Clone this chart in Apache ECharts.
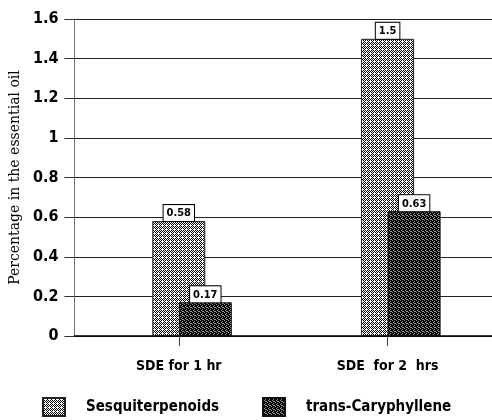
<!DOCTYPE html>
<html><head><meta charset="utf-8">
<script src="https://cdn.jsdelivr.net/npm/echarts@6/dist/echarts.min.js"></script>
<style>html,body{margin:0;padding:0;background:#fff}#c{width:492px;height:420px}</style>
</head><body><div id="c"></div>
<script>
const categories = ['SDE for 1 hr', 'SDE  for 2  hrs'];
const sesquiterpenoids = [0.58, 1.5];
const transCaryophyllene = [0.17, 0.63];
const yTicks = [0, 0.2, 0.4, 0.6, 0.8, 1, 1.2, 1.4, 1.6];

function pattern(bg, fg, cells, size) {
  const cv = document.createElement('canvas');
  cv.width = size; cv.height = size;
  const ctx = cv.getContext('2d');
  ctx.fillStyle = bg; ctx.fillRect(0, 0, size, size);
  ctx.fillStyle = fg;
  cells.forEach(([x, y]) => ctx.fillRect(x, y, 1, 1));
  return { image: cv, repeat: 'repeat' };
}
const lightPat = pattern('#000', '#fff', [[0,0],[1,1],[2,0],[3,1],[0,2],[1,3],[2,2],[3,3],[2,1]], 4);
const darkPat = pattern('#000', '#9a9a9a', [[0,0],[2,1],[1,2],[3,3],[2,3]], 4);

const condensed = "'Liberation Sans Narrow','DejaVu Sans Condensed',sans-serif";
const chart = echarts.init(document.getElementById('c'), null, { renderer: 'canvas' });
const labelStyle = {
  show: true, position: 'top', distance: 0,
  backgroundColor: '#fff', borderColor: '#000', borderWidth: 1,
  padding: [3, 3, 2, 3], color: '#000',
  fontFamily: condensed, fontWeight: 'bold', fontSize: 11
};
const legendText = { fontFamily: condensed, fontWeight: 'bold', fontSize: 15, color: '#000', padding: [0, 0, 0, 16] };
chart.setOption({
  animation: false,
  grid: { left: 74, top: 19, bottom: 84, right: -8, containLabel: false },
  legend: [
    { left: 42, top: 397, padding: 0, icon: 'rect', itemWidth: 22, itemHeight: 18, data: ['Sesquiterpenoids'], textStyle: legendText },
    { left: 262, top: 397, padding: 0, icon: 'rect', itemWidth: 22, itemHeight: 18, data: ['trans-Caryphyllene'], textStyle: legendText }
  ],
  xAxis: {
    type: 'category', data: categories,
    axisLine: { lineStyle: { color: '#000', width: 1.5 } },
    axisTick: { show: true, alignWithLabel: true, length: 10, lineStyle: { color: '#444' } },
    axisLabel: { margin: 23, color: '#000', fontFamily: condensed, fontWeight: 'bold', fontSize: 14 }
  },
  yAxis: {
    type: 'value', min: 0, max: 1.6, interval: 0.2,
    name: 'Percentage in the essential oil', nameLocation: 'middle', nameGap: 50,
    nameTextStyle: { fontFamily: "'DejaVu Serif',serif", fontSize: 14, color: '#000' },
    axisLine: { show: true, lineStyle: { color: '#777' } },
    axisTick: { show: true, length: 10, lineStyle: { color: '#333' } },
    axisLabel: { margin: 16, color: '#000', fontFamily: condensed, fontWeight: 'bold', fontSize: 16,
      formatter: v => { const t = yTicks.find(x => Math.abs(x - v) < 1e-6); return t === undefined ? '' : String(t); } },
    splitLine: { lineStyle: { color: '#222', width: 1 } }
  },
  series: [
    { name: '_pad', type: 'bar', data: [null, null], barWidth: 53, barGap: '-50%', silent: true },
    { name: 'Sesquiterpenoids', type: 'bar', data: sesquiterpenoids, barWidth: 53, barGap: '-50%',
      itemStyle: { color: lightPat, borderColor: '#222', borderWidth: 1 }, label: labelStyle },
    { name: 'trans-Caryphyllene', type: 'bar', data: transCaryophyllene, barWidth: 53, barGap: '-50%',
      itemStyle: { color: darkPat, borderColor: '#111', borderWidth: 1 }, label: labelStyle }
  ]
});
</script></body></html>
